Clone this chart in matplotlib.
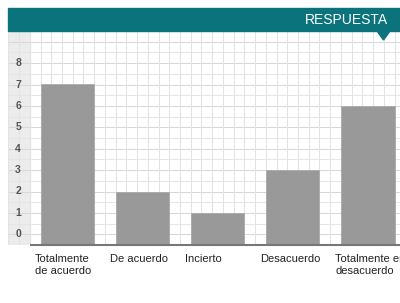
import numpy as np
import matplotlib
matplotlib.use('Agg')
import matplotlib.pyplot as plt
from matplotlib.patches import Rectangle, Polygon

categorias = ['Totalmente\nde acuerdo', 'De acuerdo', 'Incierto', 'Desacuerdo', 'Totalmente en\ndesacuerdo']
valores = [7, 2, 1, 3, 6]
ticks_y = [0, 1, 2, 3, 4, 5, 6, 7, 8]
titulo = 'RESPUESTA'

plt.rcParams['font.family'] = ['Liberation Sans', 'DejaVu Sans']

fig = plt.figure(figsize=(4.0, 3.03), dpi=100)
ax = fig.add_axes([0.02, 1 - 245 / 303, 0.98, 214 / 303])

x = np.arange(len(valores))
x0, x1 = -0.79, 4.43
ax.set_xlim(x0, x1)
ax.set_ylim(-0.5, 9.5)

# banda gris de la izquierda
ax.axvspan(x0, -0.5, color='#ececec', zorder=0)

# cuadricula
for yy in np.arange(-0.5, 9.6, 0.5):
    mayor = abs(yy - round(yy)) < 1e-6
    ax.axhline(yy, color='#d8d8d8' if mayor else '#e6e6e6', lw=0.75, zorder=1)
for xx in np.arange(-0.5 - 2 / 7, x1, 1 / 7):
    ax.axvline(xx, color='#e3e3e3', lw=0.75, zorder=1)

ax.bar(x, [v + 0.5 for v in valores], bottom=-0.5, width=5 / 7,
       color='#999999', edgecolor='#aaaaaa', lw=0.6, zorder=2)

ax.plot([-0.5, x1], [-0.5, -0.5], color='#777777', lw=1.5, zorder=3, clip_on=False,
        solid_capstyle='butt')

for t in ticks_y:
    ax.text(-0.655, t, str(t), ha='center', va='center', fontsize=7.5,
            color='#555555', fontweight='bold', zorder=4)

# el texto de la derecha queda cortado por el borde, como en el original
for i, c in enumerate(categorias):
    ax.text(x[i] - 0.435, -0.5 - 0.4, c, ha='left', va='top', fontsize=8,
            color='#222222', linespacing=1.35, clip_on=False)

ax.set_xticks([])
ax.set_yticks([])
for s in ax.spines.values():
    s.set_visible(False)

# cabecera
fig.patches.append(Rectangle((8 / 400, 1 - 31 / 303), 392 / 400, 23 / 303,
                             transform=fig.transFigure, color='#0b737c', zorder=5))
fig.patches.append(Polygon([(377 / 400, 1 - 31 / 303), (390 / 400, 1 - 31 / 303),
                            (383.5 / 400, 1 - 40 / 303)],
                           transform=fig.transFigure, color='#0b737c', zorder=5))
fig.text(388 / 400, 1 - 19.5 / 303, titulo, ha='right', va='center', color='white',
         fontsize=10, zorder=6)

fig.savefig('out.png', dpi=100)
